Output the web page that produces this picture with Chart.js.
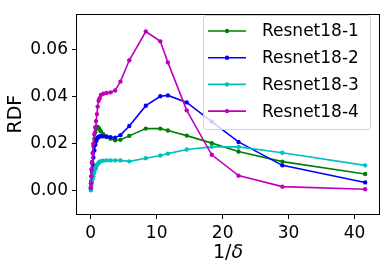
<!DOCTYPE html>
<html>
<head>
<meta charset="utf-8">
<script src="https://cdn.jsdelivr.net/npm/chart.js@4/dist/chart.umd.min.js"></script>
<style>
  html, body { margin: 0; padding: 0; background: #fff; }
</style>
</head>
<body>
<canvas id="rdf-chart" width="386" height="270"></canvas>
<script>
// 1/delta values shared by all runs
const invDelta = [0.02, 0.05, 0.1, 0.15, 0.2, 0.3, 0.4, 0.55, 0.7, 0.8, 0.95, 1.05, 1.2, 1.35, 1.55, 1.9, 2.4, 3.0, 3.7, 4.5, 5.85, 8.35, 10.55, 11.7, 14.55, 18.35, 22.4, 29.05, 41.6];

const resnet1 = [0.001, 0.003, 0.006, 0.009, 0.012, 0.016, 0.019, 0.022, 0.025, 0.0265, 0.0272, 0.0271, 0.0267, 0.026, 0.0252, 0.024, 0.0228, 0.0221, 0.0214, 0.0216, 0.0233, 0.0264, 0.0264, 0.0256, 0.0234, 0.0202, 0.0166, 0.0123, 0.007];
const resnet2 = [0.001, 0.002, 0.004, 0.006, 0.008, 0.011, 0.014, 0.017, 0.0195, 0.021, 0.022, 0.0225, 0.0228, 0.023, 0.0232, 0.0231, 0.023, 0.0227, 0.0225, 0.0236, 0.0275, 0.0362, 0.0402, 0.0406, 0.0376, 0.0294, 0.0207, 0.0107, 0.0034];
const resnet3 = [0.0, 0.001, 0.002, 0.003, 0.004, 0.005, 0.006, 0.0075, 0.009, 0.0098, 0.0108, 0.0113, 0.0118, 0.0122, 0.0125, 0.0127, 0.0128, 0.0128, 0.0128, 0.0128, 0.0124, 0.0137, 0.0149, 0.0157, 0.0175, 0.0186, 0.0186, 0.0161, 0.0107];
const resnet4 = [0.001, 0.003, 0.006, 0.009, 0.012, 0.016, 0.020, 0.024, 0.027, 0.0296, 0.0326, 0.0358, 0.0383, 0.0394, 0.0408, 0.0413, 0.0416, 0.0419, 0.0427, 0.0465, 0.0556, 0.0679, 0.0637, 0.0547, 0.0342, 0.0152, 0.0063, 0.0016, 0.0005];

const seriesNames = ['Resnet18-1', 'Resnet18-2', 'Resnet18-3', 'Resnet18-4'];
const seriesValues = [resnet1, resnet2, resnet3, resnet4];
const seriesColors = ['#008000', '#0000ff', '#00bfbf', '#bf00bf'];

const xTicks = [0, 10, 20, 30, 40];
const yTicks = [0, 0.02, 0.04, 0.06];

const FONT = "'DejaVu Sans', sans-serif";

// axes frame, matplotlib style legend box and the 1/δ label
const extras = {
    id: 'extras',
    afterDatasetsDraw(chart) {
        const ctx = chart.ctx;
        const a = chart.chartArea;
        ctx.save();
        ctx.strokeStyle = '#000';
        ctx.lineWidth = 1;
        ctx.strokeRect(Math.round(a.left) - 0.5, Math.round(a.top) + 0.5,
            Math.round(a.right - a.left) + 1, Math.round(a.bottom - a.top));

        // legend
        const lx = 203, ly = 15, lw = 167, lh = 114;
        ctx.beginPath();
        ctx.roundRect(lx + 0.5, ly + 0.5, lw, lh, 3);
        ctx.fillStyle = 'rgba(255,255,255,0.8)';
        ctx.fill();
        ctx.strokeStyle = '#d0d0d0';
        ctx.stroke();
        chart.data.datasets.forEach((ds, i) => {
            const y = 31 + i * 26.7;
            ctx.strokeStyle = ds.borderColor;
            ctx.lineWidth = 1.6;
            ctx.beginPath();
            ctx.moveTo(208, y);
            ctx.lineTo(246, y);
            ctx.stroke();
            ctx.fillStyle = ds.borderColor;
            ctx.beginPath();
            ctx.arc(227, y, 2.2, 0, Math.PI * 2);
            ctx.fill();
            ctx.fillStyle = '#000';
            ctx.font = '17px ' + FONT;
            ctx.textBaseline = 'middle';
            ctx.textAlign = 'left';
            ctx.fillText(ds.label, 262, y + 1);
        });

        // x axis title: upright "1/" and italic delta
        const cx = (a.left + a.right) / 2, ty = 253;
        ctx.fillStyle = '#000';
        ctx.textBaseline = 'middle';
        ctx.textAlign = 'left';
        ctx.font = '19px ' + FONT;
        const w1 = ctx.measureText('1/').width;
        ctx.font = 'italic 19px ' + FONT;
        const w2 = ctx.measureText('δ').width;
        let x = cx - (w1 + w2) / 2;
        ctx.font = '19px ' + FONT;
        ctx.fillText('1/', x, ty);
        ctx.font = 'italic 19px ' + FONT;
        ctx.fillText('δ', x + w1, ty);
        ctx.restore();
    }
};

new Chart(document.getElementById('rdf-chart'), {
    type: 'line',
    data: {
        datasets: seriesNames.map((name, i) => ({
            label: name,
            data: invDelta.map((x, j) => ({ x: x, y: seriesValues[i][j] })),
            borderColor: seriesColors[i],
            backgroundColor: seriesColors[i],
            borderWidth: 1.6,
            pointRadius: 2.2,
            pointBorderWidth: 0,
            pointHoverRadius: 2.2,
            tension: 0,
            fill: false,
            order: seriesNames.length - i
        }))
    },
    options: {
        responsive: false,
        animation: false,
        devicePixelRatio: 1,
        layout: { padding: { top: 6, right: 7, left: 0, bottom: 0 } },
        plugins: {
            legend: { display: false },
            tooltip: { enabled: false }
        },
        scales: {
            x: {
                type: 'linear',
                min: -2.08,
                max: 43.7,
                afterBuildTicks: s => { s.ticks = xTicks.map(v => ({ value: v })); },
                afterFit: s => { s.height = 56; },
                grid: { drawOnChartArea: false, drawTicks: true, tickLength: 5, color: '#000' },
                border: { display: false },
                ticks: {
                    color: '#000',
                    font: { family: FONT, size: 17 },
                    padding: 4,
                    maxRotation: 0,
                    callback: v => String(v)
                }
            },
            y: {
                type: 'linear',
                min: -0.0101,
                max: 0.0753,
                afterBuildTicks: s => { s.ticks = yTicks.map(v => ({ value: v })); },
                afterFit: s => { s.width = 77; },
                grid: { drawOnChartArea: false, drawTicks: true, tickLength: 5, color: '#000' },
                border: { display: false },
                ticks: {
                    color: '#000',
                    font: { family: FONT, size: 17 },
                    padding: 4,
                    callback: v => v.toFixed(2)
                },
                title: {
                    display: true,
                    text: 'RDF',
                    color: '#000',
                    font: { family: FONT, size: 19 },
                    padding: { top: 5, bottom: 0 }
                }
            }
        }
    },
    plugins: [extras]
});
</script>
</body>
</html>
